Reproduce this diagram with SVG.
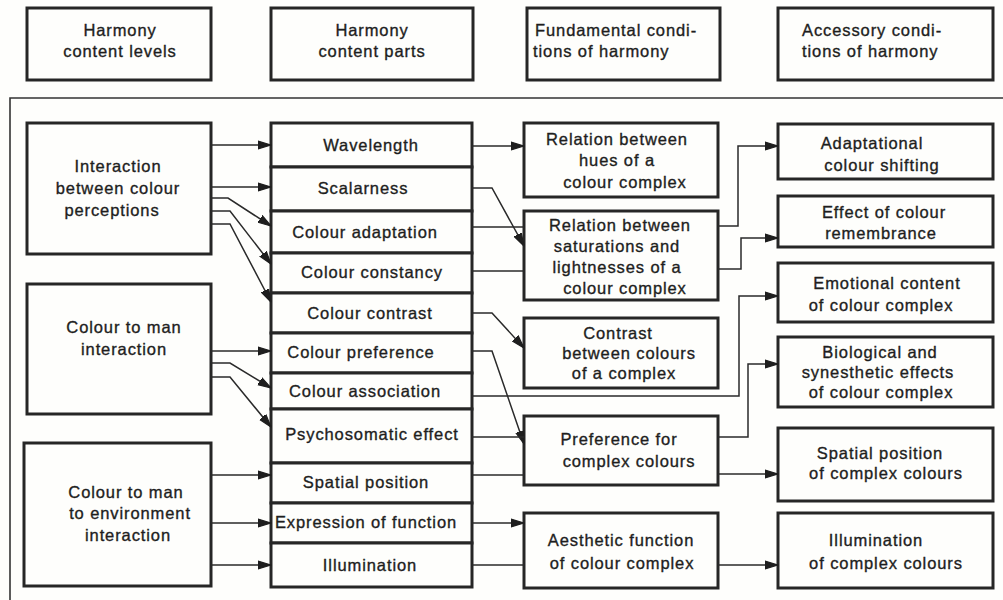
<svg xmlns="http://www.w3.org/2000/svg" width="1003" height="600" viewBox="0 0 1003 600">
  <style>
    .box { fill: #fefefc; stroke: #262626; stroke-width: 3; }
    .frame { fill: none; stroke: #333; stroke-width: 1.6; }
    .wire { fill: none; stroke: #2a2a2a; stroke-width: 1.5; }
    .arr { marker-end: url(#head); }
    text { font-family: "Liberation Sans", Arial, sans-serif; font-size: 16.5px; letter-spacing: 0.9px; fill: #1e1e1e; stroke: #1e1e1e; stroke-width: 0.35px; text-anchor: middle; }
    .left { text-anchor: start; }
  </style>
  <defs>
    <marker id="head" markerUnits="userSpaceOnUse" markerWidth="16" markerHeight="12" refX="13" refY="6" orient="auto" viewBox="0 0 16 12">
      <path d="M0,2 L13,6 L0,10 Z" fill="#1e1e1e" stroke="#1e1e1e" stroke-width="1.2" stroke-linejoin="round"/>
    </marker>
  </defs>
  <rect width="1003" height="600" fill="#fefefc"/>

  <!-- column headings -->
  <g id="head-levels"><rect class="box" x="27" y="8" width="184" height="72"/>
    <text x="120" y="36">Harmony</text><text x="120" y="57">content levels</text></g>
  <g id="head-parts"><rect class="box" x="271" y="8" width="202" height="72"/>
    <text x="372" y="36">Harmony</text><text x="372" y="57">content parts</text></g>
  <g id="head-fundamental"><rect class="box" x="527" y="8" width="193" height="72"/>
    <text class="left" x="535" y="36">Fundamental condi-</text><text class="left" x="533" y="57">tions of harmony</text></g>
  <g id="head-accessory"><rect class="box" x="778" y="8" width="215" height="72"/>
    <text class="left" x="802" y="36">Accessory condi-</text><text class="left" x="802" y="57">tions of harmony</text></g>

  <!-- enclosing frame -->
  <path class="frame" d="M10,600 V98 H1003"/>

  <!-- content levels -->
  <g id="lvl-perceptions"><rect class="box" x="27" y="123" width="184" height="131"/>
    <text x="118" y="172">Interaction</text><text x="118" y="194">between colour</text><text x="112" y="216">perceptions</text></g>
  <g id="lvl-man"><rect class="box" x="27" y="284" width="184" height="130"/>
    <text x="124" y="333">Colour to man</text><text x="124" y="355">interaction</text></g>
  <g id="lvl-environment"><rect class="box" x="24" y="443" width="187" height="143"/>
    <text x="126" y="498">Colour to man</text><text x="130" y="519">to environment</text><text x="128" y="541">interaction</text></g>

  <!-- content parts -->
  <g id="part-wavelength"><rect class="box" x="271" y="123" width="201" height="44"/><text x="371" y="151">Wavelength</text></g>
  <g id="part-scalarness"><rect class="box" x="271" y="167" width="201" height="44"/><text x="363" y="194">Scalarness</text></g>
  <g id="part-adaptation"><rect class="box" x="271" y="211" width="201" height="42"/><text x="365" y="238">Colour adaptation</text></g>
  <g id="part-constancy"><rect class="box" x="271" y="253" width="201" height="40"/><text x="372" y="278">Colour constancy</text></g>
  <g id="part-contrast"><rect class="box" x="271" y="293" width="201" height="40"/><text x="370" y="319">Colour contrast</text></g>
  <g id="part-preference"><rect class="box" x="271" y="333" width="201" height="40"/><text x="361" y="358">Colour preference</text></g>
  <g id="part-association"><rect class="box" x="271" y="373" width="201" height="36"/><text x="365" y="397">Colour association</text></g>
  <g id="part-psychosomatic"><rect class="box" x="271" y="409" width="201" height="54"/><text x="372" y="440">Psychosomatic effect</text></g>
  <g id="part-spatial"><rect class="box" x="271" y="463" width="201" height="40"/><text x="366" y="488">Spatial position</text></g>
  <g id="part-function"><rect class="box" x="271" y="503" width="201" height="40"/><text x="366" y="528">Expression of function</text></g>
  <g id="part-illumination"><rect class="box" x="271" y="543" width="201" height="44"/><text x="370" y="571">Illumination</text></g>

  <!-- fundamental conditions -->
  <g id="fund-hues"><rect class="box" x="524" y="123" width="194" height="74"/>
    <text x="617" y="145">Relation between</text><text x="617" y="166">hues of a</text><text x="625" y="188">colour complex</text></g>
  <g id="fund-saturations"><rect class="box" x="524" y="211" width="194" height="89"/>
    <text x="620" y="231">Relation between</text><text x="617" y="252">saturations and</text><text x="617" y="273">lightnesses of a</text><text x="625" y="294">colour complex</text></g>
  <g id="fund-contrast"><rect class="box" x="524" y="318" width="194" height="70"/>
    <text x="618" y="339">Contrast</text><text x="629" y="359">between colours</text><text x="624" y="379">of a complex</text></g>
  <g id="fund-preference"><rect class="box" x="524" y="416" width="194" height="69"/>
    <text x="619" y="445">Preference for</text><text x="629" y="467">complex colours</text></g>
  <g id="fund-aesthetic"><rect class="box" x="524" y="513" width="194" height="75"/>
    <text x="621" y="546">Aesthetic function</text><text x="622" y="569">of colour complex</text></g>

  <!-- accessory conditions -->
  <g id="acc-shifting"><rect class="box" x="778" y="124" width="215" height="55"/>
    <text x="872" y="149">Adaptational</text><text x="882" y="171">colour shifting</text></g>
  <g id="acc-remembrance"><rect class="box" x="778" y="196" width="215" height="51"/>
    <text x="884" y="218">Effect of colour</text><text x="881" y="239">remembrance</text></g>
  <g id="acc-emotional"><rect class="box" x="778" y="263" width="215" height="59"/>
    <text x="887" y="289">Emotional content</text><text x="881" y="311">of colour complex</text></g>
  <g id="acc-biological"><rect class="box" x="778" y="337" width="215" height="70"/>
    <text x="880" y="358">Biological and</text><text x="878" y="378">synesthetic effects</text><text x="881" y="398">of colour complex</text></g>
  <g id="acc-spatial"><rect class="box" x="778" y="428" width="215" height="73"/>
    <text x="880" y="459">Spatial position</text><text x="886" y="479">of complex colours</text></g>
  <g id="acc-illumination"><rect class="box" x="778" y="513" width="215" height="75"/>
    <text x="876" y="546">Illumination</text><text x="886" y="569">of complex colours</text></g>

  <!-- connectors -->
  <g id="connectors">
    <!-- levels to parts -->
    <path class="wire arr" d="M211,145 H271"/>
    <path class="wire arr" d="M211,187 H271"/>
    <path class="wire arr" d="M211,198 H228 L271,226"/>
    <path class="wire arr" d="M211,211 H230 L271,264"/>
    <path class="wire arr" d="M211,224 H230 L271,302"/>
    <path class="wire arr" d="M211,351 H271"/>
    <path class="wire arr" d="M211,363 H230 L271,388"/>
    <path class="wire arr" d="M211,377 H230 L271,427"/>
    <path class="wire arr" d="M211,475 H271"/>
    <path class="wire arr" d="M211,523 H271"/>
    <path class="wire arr" d="M211,565 H271"/>
    <!-- parts to fundamental conditions -->
    <path class="wire arr" d="M472,146 H524"/>
    <path class="wire arr" d="M472,188 H492 L524,246"/>
    <path class="wire" d="M472,227 H524"/>
    <path class="wire" d="M472,271 H524"/>
    <path class="wire arr" d="M472,313 H492 L524,348"/>
    <path class="wire arr" d="M472,351 H492 L524,444"/>
    <path class="wire arr" d="M472,396 H739 V296 H778"/>
    <path class="wire" d="M472,437 H524"/>
    <path class="wire" d="M472,475 H524"/>
    <path class="wire arr" d="M472,523 H524"/>
    <path class="wire" d="M472,565 H524"/>
    <!-- fundamental to accessory conditions -->
    <path class="wire arr" d="M718,226 H738 V146 H778"/>
    <path class="wire arr" d="M718,269 H741 V238 H778"/>
    <path class="wire arr" d="M718,437 H748 V364 H778"/>
    <path class="wire arr" d="M718,474 H778"/>
    <path class="wire arr" d="M718,565 H778"/>
  </g>
</svg>
